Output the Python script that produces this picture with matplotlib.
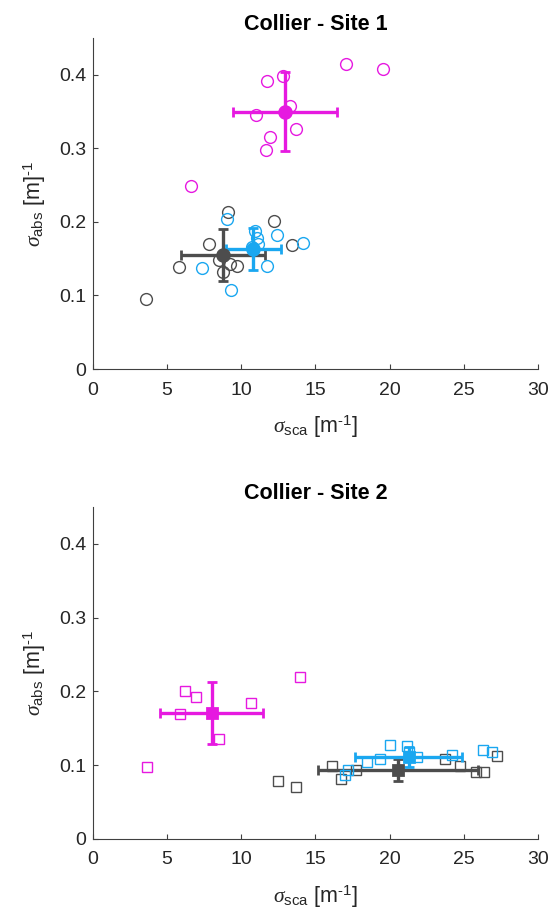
import matplotlib
matplotlib.use("Agg")
import matplotlib.pyplot as plt

plt.rcParams["font.family"] = ["Liberation Sans", "DejaVu Sans"]
plt.rcParams["mathtext.fontset"] = "custom"
plt.rcParams["mathtext.rm"] = "Liberation Sans"
plt.rcParams["mathtext.it"] = "Liberation Serif:italic"

MAGENTA = "#e619e0"
BLUE = "#1aa7f0"
GRAY = "#4d4d4d"

# Site 1 (circles)
s1_mag_x = [17.05, 19.55, 11.71, 12.84, 13.30, 10.99, 13.69, 11.96, 11.64, 6.60]
s1_mag_y = [0.415, 0.408, 0.391, 0.398, 0.357, 0.345, 0.327, 0.316, 0.298, 0.249]
s1_gray_x = [9.12, 12.21, 7.82, 13.40, 5.79, 8.51, 9.24, 9.73, 8.74, 3.56]
s1_gray_y = [0.213, 0.201, 0.170, 0.169, 0.139, 0.148, 0.143, 0.140, 0.132, 0.095]
s1_blue_x = [9.01, 12.43, 14.19, 7.34, 11.71, 9.33, 10.93, 11.08, 11.15, 10.70]
s1_blue_y = [0.204, 0.182, 0.172, 0.137, 0.140, 0.108, 0.187, 0.178, 0.170, 0.166]
# mean x, mean y, std x, std y
s1_mag_mean = [12.95, 0.350, 3.49, 0.054]
s1_gray_mean = [8.78, 0.155, 2.84, 0.035]
s1_blue_mean = [10.81, 0.163, 1.86, 0.029]

# Site 2 (squares)
s2_mag_x = [3.64, 6.22, 6.94, 5.89, 10.65, 13.96, 8.47]
s2_mag_y = [0.097, 0.200, 0.193, 0.170, 0.184, 0.220, 0.136]
s2_gray_x = [12.47, 13.71, 16.11, 16.74, 17.71, 23.71, 24.72, 25.84, 26.34, 27.24]
s2_gray_y = [0.079, 0.070, 0.099, 0.081, 0.094, 0.109, 0.099, 0.091, 0.091, 0.112]
s2_blue_x = [20.00, 21.17, 21.30, 21.84, 19.33, 18.48, 17.20, 17.00, 24.20, 26.29, 26.92]
s2_blue_y = [0.127, 0.126, 0.118, 0.111, 0.108, 0.104, 0.094, 0.087, 0.114, 0.120, 0.118]
s2_mag_mean = [7.99, 0.171, 3.45, 0.042]
s2_gray_mean = [20.56, 0.0933, 5.39, 0.0147]
s2_blue_mean = [21.28, 0.1115, 3.60, 0.0135]

x_ticks = [0, 5, 10, 15, 20, 25, 30]
y_ticks = [0, 0.1, 0.2, 0.3, 0.4]
y_tick_labels = ["0", "0.1", "0.2", "0.3", "0.4"]


def draw_site(ax, title, marker, msize, groups):
    for xs, ys, mean, color in groups:
        ax.plot(xs, ys, linestyle="none", marker=marker, markersize=msize,
                markerfacecolor="none", markeredgecolor=color, markeredgewidth=1.0)
        ax.errorbar(mean[0], mean[1], xerr=mean[2], yerr=mean[3], color=color,
                    marker=marker, markersize=msize, markerfacecolor=color,
                    markeredgecolor=color, markeredgewidth=2.0,
                    elinewidth=2.4, capsize=3.5, capthick=2.4)
    ax.set_xlim(0, 30)
    ax.set_ylim(0, 0.45)
    ax.set_xticks(x_ticks)
    ax.set_yticks(y_ticks)
    ax.set_yticklabels(y_tick_labels)
    for side in ["top", "right"]:
        ax.spines[side].set_visible(False)
    for side in ["left", "bottom"]:
        ax.spines[side].set_color("#404040")
        ax.spines[side].set_linewidth(0.8)
    ax.tick_params(direction="in", length=3.5, width=0.8, color="#404040",
                   labelcolor="#262626", labelsize=14)
    ax.tick_params(axis="x", pad=9)
    ax.tick_params(axis="y", pad=5)
    ax.set_title(title, fontsize=15.5, fontweight="bold", pad=6)
    ax.set_xlabel(r"$\sigma_{\rm sca}$ [m$^{\text{-1}}$]", fontsize=15.5,
                  color="#262626", labelpad=11)
    ax.set_ylabel(r"$\sigma_{\rm abs}$ [m]$^{\text{-1}}$", fontsize=15.5,
                  color="#262626", labelpad=8)


fig = plt.figure(figsize=(5.52, 9.15), dpi=100)
ax1 = fig.add_axes([0.1685, 0.5967, 0.806, 0.3617])
ax2 = fig.add_axes([0.1685, 0.0831, 0.806, 0.3628])

draw_site(ax1, "Collier - Site 1", "o", 8.5, [
    (s1_gray_x, s1_gray_y, s1_gray_mean, GRAY),
    (s1_blue_x, s1_blue_y, s1_blue_mean, BLUE),
    (s1_mag_x, s1_mag_y, s1_mag_mean, MAGENTA),
])
draw_site(ax2, "Collier - Site 2", "s", 7.5, [
    (s2_gray_x, s2_gray_y, s2_gray_mean, GRAY),
    (s2_blue_x, s2_blue_y, s2_blue_mean, BLUE),
    (s2_mag_x, s2_mag_y, s2_mag_mean, MAGENTA),
])

fig.savefig("out.png", dpi=100)
